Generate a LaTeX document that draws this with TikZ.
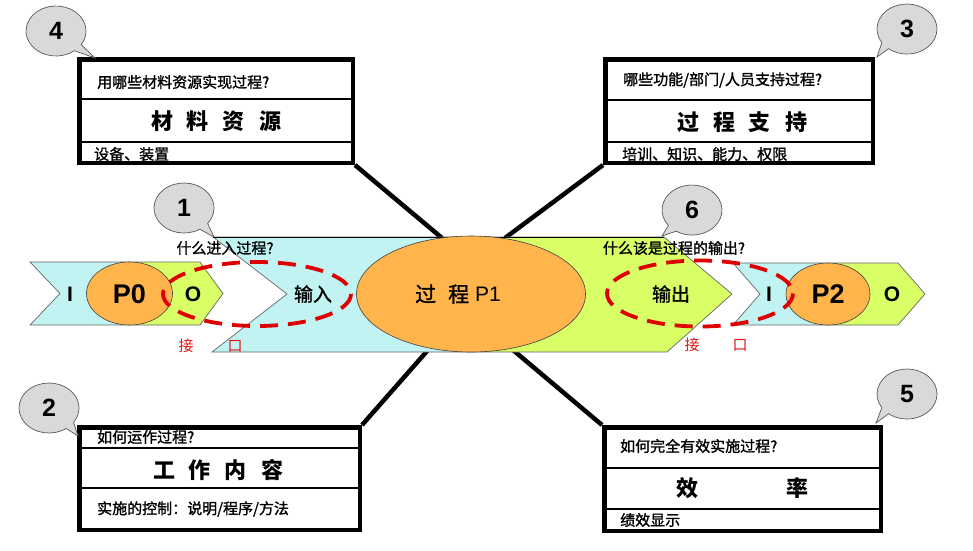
\documentclass[tikz,border=0pt]{standalone}
\usepackage{fontspec}
\setmainfont{Liberation Sans}
\newfontfamily\cjk[FakeBold=1.3]{Noto Sans CJK SC}
\newfontfamily\cjktitle{Noto Sans CJK SC}
\usetikzlibrary{calc,shapes.geometric}
\definecolor{cyanfill}{RGB}{194,243,243}
\definecolor{greenfill}{RGB}{217,255,102}
\definecolor{orangefill}{RGB}{255,180,76}
\definecolor{bubblegray}{RGB}{217,217,217}
\definecolor{dashred}{RGB}{222,0,0}
\definecolor{labelred}{RGB}{230,20,20}
\newcommand\mycallout[7]{%
  \draw[bubble] (#6) -- ($(#2,#3)+(#4:30 and 25)$) arc[start angle=#4, end angle=#5, x radius=30, y radius=25] -- cycle;
  \node[numtext] (#1) at (#2,#3) {#7};}
\tikzset{
  boxframe/.style={draw=black, line width=4.5pt, inner sep=0pt, fill=white},
  innerline/.style={black, line width=1.3pt},
  connector/.style={black, line width=4.5pt},
  smalltext/.style={font=\cjk\fontsize{15}{18}\selectfont, inner sep=0pt, anchor=west},
  titletext/.style={font=\cjktitle\bfseries\fontsize{22}{26}\selectfont, inner sep=0pt},
  bubble/.style={fill=bubblegray, draw=black!65, line width=0.7pt},
  numtext/.style={font=\bfseries\fontsize{25}{28}\selectfont, inner sep=0pt},
  procell/.style={ellipse, fill=orangefill, draw=black!75, line width=0.6pt, inner sep=0pt},
  arrowedge/.style={draw=black!60, line width=0.7pt},
  reddash/.style={draw=dashred, line width=3.8pt, dash pattern=on 18pt off 10pt},
  redtext/.style={text=labelred, font=\cjktitle\fontsize{15}{18}\selectfont, inner sep=0pt},
  ioletter/.style={font=\bfseries\fontsize{21}{24}\selectfont, inner sep=0pt},
  pname/.style={font=\bfseries\fontsize{27}{30}\selectfont, inner sep=0pt},
  midtext/.style={font=\cjk\fontsize{19}{22}\selectfont, inner sep=0pt},
  qtext/.style={font=\cjk\fontsize{15}{18}\selectfont, inner sep=0pt}
}
\begin{document}
\begin{tikzpicture}[x=1pt,y=-1pt]
\useasboundingbox[fill=white] (0,0) rectangle (973,550);

% boxes
\node[boxframe, minimum width=273.5pt, minimum height=103.5pt] (box4) at (216,111) {};
\node[boxframe, minimum width=267.5pt, minimum height=103.5pt] (box3) at (739,111) {};
\node[boxframe, minimum width=280.5pt, minimum height=102.5pt] (box2) at (219.5,478.5) {};
\node[boxframe, minimum width=276.5pt, minimum height=103.5pt] (box5) at (742.5,479) {};

\draw[innerline] (box4.west |- 0,99) -- (box4.east |- 0,99);
\draw[innerline] (box4.west |- 0,142) -- (box4.east |- 0,142);
\draw[innerline] (box3.west |- 0,100) -- (box3.east |- 0,100);
\draw[innerline] (box3.west |- 0,142) -- (box3.east |- 0,142);
\draw[innerline] (box2.west |- 0,448) -- (box2.east |- 0,448);
\draw[innerline] (box2.west |- 0,488) -- (box2.east |- 0,488);
\draw[innerline] (box5.west |- 0,468) -- (box5.east |- 0,468);
\draw[innerline] (box5.west |- 0,509) -- (box5.east |- 0,509);

% connector ends on the process ellipse
\coordinate (e4) at (442,238);
\coordinate (e3) at (505,238);
\coordinate (e2) at (428,350);
\coordinate (e5) at (513,350);
\draw[connector] (box4.south east) -- (e4);
\draw[connector] (box3.south west) -- (e3);
\draw[connector] (box2.north east) -- (e2);
\draw[connector] (box5.north west) -- (e5);

% P0 arrow
\fill[cyanfill] (30,262) -- (129.5,262) -- (129.5,325) -- (30,325) -- (60,293.5) -- cycle;
\fill[greenfill] (129.5,262) -- (200,262) -- (223,293.5) -- (200,325) -- (129.5,325) -- cycle;
\draw[arrowedge] (30,262) -- (200,262) -- (223,293.5) -- (200,325) -- (30,325) -- (60,293.5) -- cycle;

% main arrow
\fill[cyanfill] (213,237) -- (471,237) -- (471,352) -- (212,352) -- (287,294) -- cycle;
\fill[greenfill] (471,237) -- (664,237) -- (732,294) -- (667,352) -- (471,352) -- cycle;
\draw[arrowedge] (213,237) -- (664,237) -- (732,294) -- (667,352) -- (212,352) -- (287,294) -- cycle;
\draw[black, line width=0.8pt] (213,237) -- (664,237);

% P2 arrow
\fill[cyanfill] (733,263) -- (828,263) -- (828,325) -- (733,325) -- (760,294) -- cycle;
\fill[greenfill] (828,263) -- (898,263) -- (925,294) -- (898,325) -- (828,325) -- cycle;
\draw[arrowedge] (733,263) -- (898,263) -- (925,294) -- (898,325) -- (733,325) -- (760,294) -- cycle;

% process ellipses
\node[procell, minimum width=86pt, minimum height=63pt] (p0) at (129.5,293.5) {};
\node[procell, minimum width=229pt, minimum height=116pt] (p1) at (471,294) {};
\node[procell, minimum width=84pt, minimum height=62pt] (p2) at (828,294) {};

% texts in arrows
\node[ioletter] (i0) at (70,294) {I};
\node[pname] (p0t) at (129.5,294) {P0};
\node[ioletter] (o0) at (193,294) {O};
\node[ioletter] (i2) at (769,294) {I};
\node[pname] (p2t) at (828,294) {P2};
\node[ioletter] (o2) at (892,294) {O};
\node[midtext] (inp) at (313,294) {输入};
\node[midtext] (outp) at (671,294) {输出};
\node[inner sep=0pt, font=\fontsize{21}{24}\selectfont] (p1t) at (458,294) {{\cjk 过\hspace{12pt}程}\hspace{6pt}P1};

% red dashed interfaces
\draw[reddash] (257,294) ellipse[x radius=94, y radius=32];
\draw[reddash] (700,293.5) ellipse[x radius=93, y radius=33];

% questions and interface labels
\node[qtext] (q1) at (225,248) {什么进入过程?};
\node[qtext] (q6) at (674,248) {什么该是过程的输出?};
\node[redtext] (jl) at (186,346) {接};
\node[redtext] (kl) at (235,346) {口};
\node[redtext] (jr) at (692,345) {接};
\node[redtext] (kr) at (740,345) {口};

% box texts
\node[smalltext] (b4a) at (97,82) {用哪些材料资源实现过程?};
\node[titletext] (b4b) at (216,121) {材\hspace{14pt}料\hspace{14pt}资\hspace{14pt}源};
\node[smalltext] (b4c) at (94,154) {设备、装置};

\node[smalltext] (b3a) at (623,80) {哪些功能/部门/人员支持过程?};
\node[titletext] (b3b) at (742,122) {过\hspace{14pt}程\hspace{14pt}支\hspace{14pt}持};
\node[smalltext] (b3c) at (622,154) {培训、知识、能力、权限};

\node[smalltext] (b2a) at (97,437) {如何运作过程?};
\node[titletext] (b2b) at (218,470) {工\hspace{14pt}作\hspace{14pt}内\hspace{14pt}容};
\node[smalltext] (b2c) at (97,509) {实施的控制：说明/程序/方法};

\node[smalltext] (b5a) at (620,446) {如何完全有效实施过程?};
\node[titletext] (b5b) at (687,488) {效};
\node[titletext] (b5c) at (797,488) {率};
\node[smalltext] (b5d) at (620,520) {绩效显示};

% callouts
\mycallout{n4}{56}{31}{52}{393}{95,58}{4}
\mycallout{n3}{907}{29}{147}{488}{877,57}{3}
\mycallout{n1}{184}{208}{58}{398}{214,237}{1}
\mycallout{n6}{692}{210}{142}{482}{662,236}{6}
\mycallout{n2}{49}{408}{55}{395}{78,436}{2}
\mycallout{n5}{907}{394}{147}{488}{876,423}{5}
\end{tikzpicture}
\end{document}
